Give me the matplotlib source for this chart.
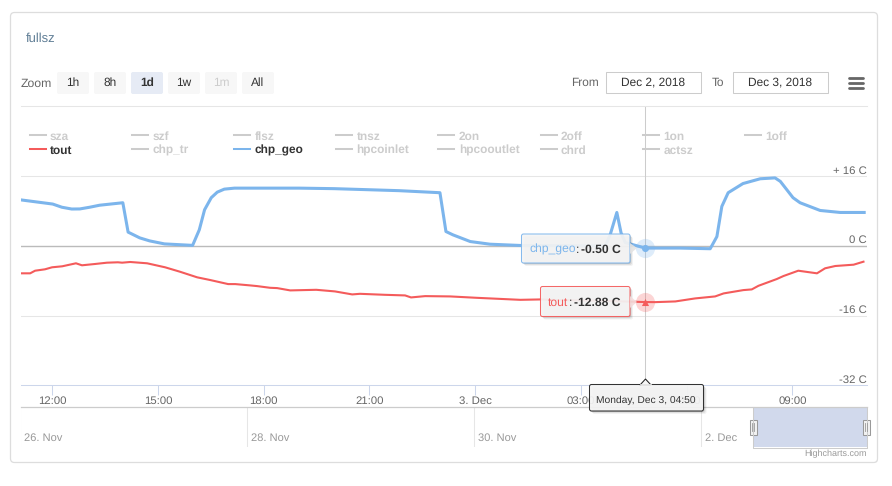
import matplotlib
matplotlib.use("Agg")
import matplotlib.pyplot as plt
from matplotlib.patches import FancyBboxPatch, Rectangle, Polygon
from matplotlib.transforms import blended_transform_factory

plt.rcParams['font.family'] = ['Liberation Sans', 'DejaVu Sans']
plt.rcParams['text.hinting'] = 'none'

# hours since Dec 2 00:00, values in C
geo_h = [11.11, 12.01, 12.27, 12.55, 12.78, 13.06, 13.34, 14.0, 14.15, 14.48, 14.76, 15.18,
         15.98, 16.17, 16.32, 16.51, 16.68, 16.88, 17.17, 19.0, 20.0, 21.84, 23.0, 23.17,
         23.37, 23.86, 24.42, 25.28, 27.69, 27.83, 28.02, 28.14, 28.26, 28.6, 28.83, 29.82,
         30.67, 30.86, 31.0, 31.18, 31.6, 32.09, 32.51, 32.66, 33.02, 33.22, 33.79, 34.36, 35.04]
geo_v = [10.55, 9.6, 8.87, 8.46, 8.48, 8.87, 9.33, 9.9, 3.16, 1.84, 1.15, 0.46,
         0.12, 3.69, 8.29, 11.06, 12.33, 13.02, 13.25, 13.25, 13.13, 12.67, 12.2, 3.3,
         2.53, 1.0, 0.39, 0.1, 0.0, 2.53, 7.67, 3.0, 0.76, 0.0, -0.5, -0.5,
         -0.65, 2.14, 9.06, 12.2, 14.3, 15.4, 15.6, 14.8, 11.06, 9.9, 8.13, 7.67, 7.67]

tout_h = [11.11, 11.37, 11.51, 11.79, 11.99, 12.28, 12.67, 12.84, 13.21, 13.55, 13.86, 13.98,
          14.21, 14.69, 15.2, 15.62, 16.11, 16.48, 16.99, 17.19, 17.61, 17.81, 18.18, 18.38,
          18.75, 19.49, 20.02, 20.51, 20.73, 21.44, 22.01, 22.18, 22.58, 23.29, 24.05, 25.28,
          25.85, 26.41, 27.55, 28.4, 28.83, 29.11, 29.68, 30.24, 30.81, 31.05, 31.61, 31.85,
          32.04, 32.56, 32.75, 33.17, 33.7, 33.93, 34.22, 34.74, 35.02]
tout_v = [-6.29, -6.29, -5.69, -5.37, -4.91, -4.68, -3.99, -4.45, -4.15, -3.85, -3.76, -3.85,
          -3.69, -3.99, -4.91, -5.92, -7.21, -7.83, -8.76, -8.76, -9.06, -9.22, -9.61, -9.68,
          -10.21, -10.07, -10.44, -11.13, -10.99, -11.22, -11.36, -11.82, -11.52, -11.59, -11.91, -12.37,
          -12.28, -12.44, -12.56, -12.79, -12.88, -12.9, -12.74, -12.05, -11.59, -10.9, -10.14, -9.98,
          -9.15, -7.6, -6.91, -5.69, -6.29, -5.14, -4.61, -4.31, -3.62]

x_ticks = [12, 15, 18, 21, 24, 27, 30, 33]
x_labels = ["12:00", "15:00", "18:00", "21:00", "3. Dec", "03:00", "06:00", "09:00"]
y_ticks = [16, 0, -16, -32]
y_labels = ["+ 16 C", "0 C", "-16 C", "-32 C"]

legend_row1 = ["sza", "szf", "flsz", "tnsz", "2on", "2off", "1on", "1off"]
legend_row2 = ["tout", "chp_tr", "chp_geo", "hpcoinlet", "hpcooutlet", "chrd", "actsz"]
zoom_labels = ["1h", "8h", "1d", "1w", "1m", "All"]
nav_days = [-6, -4, -2, 0]
nav_labels = ["26. Nov", "28. Nov", "30. Nov", "2. Dec"]

hover_h = 28.83
hover_geo = -0.5
hover_tout = -12.88

BLUE = "#7cb5ec"
RED = "#f45b5b"
W, H = 892, 486


def px_axes(x0, y0, x1, y1, **kw):
    return fig.add_axes([x0 / W, 1 - y1 / H, (x1 - x0) / W, (y1 - y0) / H], **kw)


def tooltip(ax, x0, y0, x1, y1, edge):
    for d, a in [(3, 0.05), (2, 0.08), (1, 0.12)]:
        ax.add_patch(FancyBboxPatch((x0 + d, y0 + d), x1 - x0, y1 - y0, boxstyle="round,pad=0,rounding_size=2",
                                    fc="black", ec="none", alpha=a))
    ax.add_patch(FancyBboxPatch((x0, y0), x1 - x0, y1 - y0, boxstyle="round,pad=0,rounding_size=2",
                                fc="#f7f7f7", ec=edge, lw=0.75, alpha=0.92))


fig = plt.figure(figsize=(W / 100, H / 100), dpi=100)
fig.patch.set_facecolor("white")

# background: card and the controls
bg = px_axes(0, 0, W, H, zorder=0)
bg.set_xlim(0, W)
bg.set_ylim(H, 0)
bg.axis("off")
bg.add_patch(FancyBboxPatch((11, 13), 867, 450, boxstyle="round,pad=0,rounding_size=4", fc="#eeeeee", ec="none"))
bg.add_patch(FancyBboxPatch((10.5, 12.5), 867, 450, boxstyle="round,pad=0,rounding_size=4", fc="white", ec="#dddddd", lw=0.9))
bg.text(25.5, 38.5, "fullsz", fontsize=9.4, color="#5f7d95", va="center")
bg.text(21, 84, "Zoom", fontsize=8.8, color="#666666", va="center")

for i, lab in enumerate(zoom_labels):
    x0 = 57 + 37 * i
    fc = "#e6ebf5" if lab == "1d" else "#f7f7f7"
    bg.add_patch(FancyBboxPatch((x0, 72), 32, 22, boxstyle="round,pad=0,rounding_size=2", fc=fc, ec="none"))
    col = "#cccccc" if lab == "1m" else "#333333"
    bg.text(x0 + 16, 82.5, lab, fontsize=8.6, color=col, ha="center", va="center",
            fontweight="bold" if lab == "1d" else "normal")

bg.text(571, 82.5, "From", fontsize=8.6, color="#666666", va="center")
bg.text(712, 82.5, "To", fontsize=8.6, color="#666666", va="center")
for x0, lab in [(606, "Dec 2, 2018"), (733, "Dec 3, 2018")]:
    bg.add_patch(Rectangle((x0, 72.5), 94.5, 21, fc="white", ec="#cccccc", lw=0.75))
    bg.text(x0 + 47.5, 82.5, lab, fontsize=8.6, color="#333333", ha="center", va="center")
for y in [78, 83, 88]:
    bg.plot([849, 863], [y, y], color="#666666", lw=2, solid_capstyle="round")

# main chart
ax = px_axes(21, 106.4, 867, 385.4, zorder=1)
ax.patch.set_alpha(0)
ax.set_xlim(11.11, 35.12)
ax.set_ylim(-32, 32)
for s in ["left", "right"]:
    ax.spines[s].set_visible(False)
ax.spines["top"].set_color("#e6e6e6")
ax.spines["top"].set_linewidth(0.75)
ax.spines["bottom"].set_color("#ccd6eb")
ax.spines["bottom"].set_linewidth(0.75)
ax.set_yticks([])
ax.set_xticks(x_ticks)
ax.set_xticklabels(x_labels, fontsize=8.2, color="#666666")
ax.tick_params(axis="x", length=7.2, width=0.75, color="#ccd6eb", pad=0.4)

for v in y_ticks[:1] + y_ticks[2:3]:
    ax.axhline(v, color="#e6e6e6", lw=0.75, zorder=1)
ax.axhline(0, color="#bbbbbb", lw=1.0, zorder=1)

trans = blended_transform_factory(ax.transAxes, ax.transData)
for v, lab in zip(y_ticks, y_labels):
    ax.annotate(lab, xy=(1, v), xycoords=trans, xytext=(0, 0.3), textcoords="offset points",
                fontsize=8.2, color="#666666", ha="right", va="bottom")

ax.axvline(hover_h, color="#cccccc", lw=0.75, zorder=1.5)
ax.plot(geo_h, geo_v, color=BLUE, lw=2.2, zorder=3, solid_joinstyle="round")
ax.plot(tout_h, tout_v, color=RED, lw=1.5, zorder=3, solid_joinstyle="round")
ax.scatter([hover_h], [hover_geo], s=190, color=BLUE, alpha=0.25, lw=0, zorder=4)
ax.scatter([hover_h], [hover_geo], s=26, color=BLUE, lw=0, zorder=5)
ax.scatter([hover_h], [hover_tout], s=190, color=RED, alpha=0.25, lw=0, zorder=4)
ax.scatter([hover_h], [hover_tout], s=26, color=RED, marker="^", lw=0, zorder=5)

# navigator
nav = px_axes(20.5, 407, 866.5, 447, zorder=1)
nav.patch.set_alpha(0)
nav.set_xlim(-5.996, 1.458)
nav.set_ylim(0, 1)
nav.set_yticks([])
nav.set_xticks([])
for s in ["left", "right", "bottom"]:
    nav.spines[s].set_visible(False)
nav.spines["top"].set_color("#cccccc")
nav.spines["top"].set_linewidth(0.9)
for d, lab in zip(nav_days, nav_labels):
    nav.axvline(d, color="#e6e6e6", lw=0.75)
    nav.annotate(lab, xy=(d, 0), xycoords="data", xytext=(2.8, 3.0), textcoords="offset points",
                 fontsize=8, color="#999999", ha="left", va="bottom")
nav.axvspan(11.11 / 24, 35.12 / 24, color="#d1d9ec", lw=0, zorder=2)

# top layer: tooltips and handles
top = px_axes(0, 0, W, H, zorder=3)
top.patch.set_alpha(0)
top.set_xlim(0, W)
top.set_ylim(H, 0)
top.axis("off")

top.plot([753, 753, 866.5, 866.5], [407, 447.5, 447.5, 407], color="#cccccc", lw=0.75)
for xc in [753, 866]:
    top.add_patch(Rectangle((xc - 3.5, 419.5), 7, 15, fc="#f2f2f2", ec="#999999", lw=0.75))
    for dx in [-1, 1]:
        top.plot([xc + dx, xc + dx], [423, 431], color="#999999", lw=0.6)
top.text(867, 454, "Highcharts.com", fontsize=6.5, color="#999999", ha="right", va="center")

tooltip(top, 521.5, 234, 630, 263, BLUE)
top.add_patch(Polygon([(630, 243), (637, 248), (630, 254)], fc="#e4e4e4", ec="none", alpha=0.9))
top.text(529, 249.5, "chp_geo", fontsize=8.7, color=BLUE, va="center")
top.text(575.5, 249.5, ":", fontsize=8.7, color="#333333", va="center")
top.text(621, 249.5, "-0.50 C", fontsize=8.7, color="#333333", va="center", ha="right", fontweight="bold")

tooltip(top, 540.5, 286.5, 630, 316.5, RED)
top.add_patch(Polygon([(630, 296), (637, 302), (630, 308)], fc="#f4dcdc", ec="none", alpha=0.9))
top.text(548, 302.5, "tout", fontsize=8.7, color=RED, va="center")
top.text(569, 302.5, ":", fontsize=8.7, color="#333333", va="center")
top.text(620.5, 302.5, "-12.88 C", fontsize=8.7, color="#333333", va="center", ha="right", fontweight="bold")

tooltip(top, 589.5, 384.5, 703.5, 411, "#222222")
top.add_patch(Polygon([(640, 385), (645.5, 379), (651, 385)], fc="#f7f7f7", ec="#222222", lw=0.75))
top.plot([640.5, 650.5], [385, 385], color="#f7f7f7", lw=1.2)
top.text(646, 400.5, "Monday, Dec 3, 04:50", fontsize=7.4, color="#333333", ha="center", va="center")

# legend, only two series are on
for i, name in enumerate(legend_row1):
    x0 = 29.5 + 102.2 * i
    top.plot([x0, x0 + 16], [135.5, 135.5], color="#cccccc", lw=1.45)
    top.text(x0 + 20.5, 136.3, name, fontsize=8.6, color="#cccccc", fontweight="bold", va="center")
for i, name in enumerate(legend_row2):
    x0 = 29.5 + 102.2 * i
    on = name in ("tout", "chp_geo")
    lc = {"tout": RED, "chp_geo": BLUE}.get(name, "#cccccc")
    top.plot([x0, x0 + 16], [149.5, 149.5], color=lc, lw=1.45)
    top.text(x0 + 20.5, 150.3, name, fontsize=8.6, color="#333333" if on else "#cccccc", fontweight="bold", va="center")

fig.savefig("out.png", dpi=100)
